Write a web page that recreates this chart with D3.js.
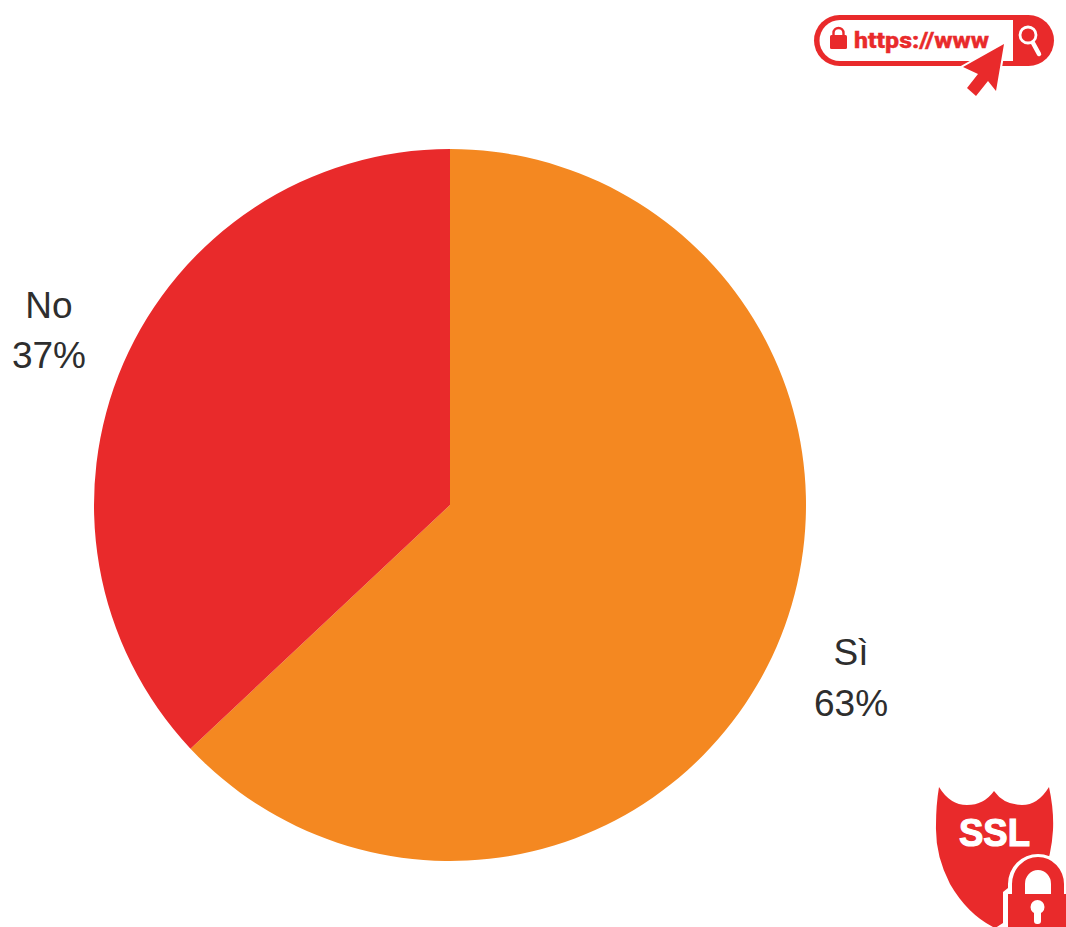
<!DOCTYPE html>
<html>
<head>
<meta charset="utf-8">
<script src="https://cdn.jsdelivr.net/npm/d3@7"></script>
<style>
  html, body { margin: 0; padding: 0; background: #fff; }
  svg { display: block; }
</style>
</head>
<body>
<svg id="chart" width="1066" height="927"></svg>
<script>
const categories = ["Sì", "No"];
const shares = [63, 37];
const sliceColors = ["#F48821", "#E92A2B"];
const accent = "#E92A2B";

const svg = d3.select("#chart");
const cx = 450, cy = 505, radius = 356, labelRadius = 437;

const pie = d3.pie().sort(null).value(d => d.share);
const arc = d3.arc().innerRadius(0).outerRadius(radius);
const labelArc = d3.arc().innerRadius(labelRadius).outerRadius(labelRadius);
const color = d3.scaleOrdinal().domain(categories).range(sliceColors);
const rows = categories.map((name, i) => ({ name, share: shares[i] }));

const plot = svg.append("g").attr("transform", `translate(${cx},${cy})`);

plot.selectAll("path.slice")
  .data(pie(rows))
  .join("path")
  .attr("class", "slice")
  .attr("d", arc)
  .attr("fill", d => color(d.data.name));

// Two-line labels: category name above its percentage
const labels = plot.selectAll("text.slice-label")
  .data(pie(rows))
  .join("text")
  .attr("class", "slice-label")
  .attr("text-anchor", "middle")
  .attr("font-family", "'Liberation Sans', Arial, sans-serif")
  .attr("font-size", 37)
  .attr("fill", "#2e2e2e")
  .attr("transform", d => `translate(${labelArc.centroid(d)})`);
labels.append("tspan").attr("x", 0).attr("y", -13.5).text(d => d.data.name);
labels.append("tspan").attr("x", 0).attr("y", 37).text(d => `${d.data.share}%`);

// Address-bar badge, top right
const bar = svg.append("g").attr("class", "badge-url");
bar.append("rect").attr("x", 814).attr("y", 15).attr("width", 240).attr("height", 51).attr("rx", 25.5).attr("fill", accent);
bar.append("path").attr("d", "M1013,20 H840 A20.5,20.5 0 0 0 840,61 H1013 Z").attr("fill", "#fff");
bar.append("rect").attr("x", 830).attr("y", 35).attr("width", 17).attr("height", 14).attr("rx", 1.5).attr("fill", accent);
bar.append("path").attr("d", "M833.5,36 V33 A5,5 0 0 1 843.5,33 V36").attr("fill", "none").attr("stroke", accent).attr("stroke-width", 2.4);
bar.append("text").attr("x", 854).attr("y", 48)
  .attr("font-family", "Roboto, 'Liberation Sans', sans-serif").attr("font-weight", 800).attr("font-size", 22)
  .attr("textLength", 135).attr("lengthAdjust", "spacingAndGlyphs")
  .attr("fill", accent).attr("stroke", accent).attr("stroke-width", 0.4).text("https://www");
bar.append("circle").attr("cx", 1028).attr("cy", 35).attr("r", 8).attr("fill", "none").attr("stroke", "#fff").attr("stroke-width", 2.8);
bar.append("line").attr("x1", 1033).attr("y1", 43).attr("x2", 1039).attr("y2", 54).attr("stroke", "#fff").attr("stroke-width", 4.5).attr("stroke-linecap", "round");
bar.append("path")
  .attr("d", "M1004,44 L963,67 L978,74 L967,88 L976,96 L988,81 L996,91 Z")
  .attr("fill", accent).attr("stroke", "#fff").attr("stroke-width", 4).attr("paint-order", "stroke").attr("stroke-linejoin", "miter");

// SSL shield with padlock, bottom right
const shield = svg.append("g").attr("class", "badge-ssl");
shield.append("path")
  .attr("d", "M939,787 Q950,805 967,805 Q984,805 994,791 Q1004,805 1022,805 Q1038,805 1049,787 Q1054,810 1053,830 Q1050,880 1020,910 Q1008,921 995,928 Q968,915 950,884 Q935,855 936,825 Q936,805 939,787 Z")
  .attr("fill", accent);
shield.append("text").attr("x", 994.5).attr("y", 846).attr("text-anchor", "middle")
  .attr("font-family", "'Liberation Sans', Arial, sans-serif").attr("font-weight", 700).attr("font-size", 38)
  .attr("stroke", "#fff").attr("stroke-width", 1.2)
  .attr("textLength", 71).attr("lengthAdjust", "spacingAndGlyphs")
  .attr("fill", "#fff").text("SSL");
// Padlock: white halo, red shackle and body, white keyhole
shield.append("path")
  .attr("d", "M1003,927 V892 L1008,888 V884 A30,30 0 0 1 1068,884 V927 Z")
  .attr("fill", "#fff");
shield.append("path")
  .attr("d", "M1012,896 V884 A26,27 0 0 1 1064,884 V896 H1051 V884 A13,14 0 0 0 1025,884 V896 Z")
  .attr("fill", accent);
shield.append("rect").attr("x", 1008).attr("y", 894).attr("width", 58).attr("height", 33).attr("fill", accent);
shield.append("circle").attr("cx", 1037.5).attr("cy", 907).attr("r", 7).attr("fill", "#fff");
shield.append("rect").attr("x", 1034).attr("y", 908).attr("width", 7).attr("height", 16).attr("rx", 3).attr("fill", "#fff");
</script>
</body>
</html>
